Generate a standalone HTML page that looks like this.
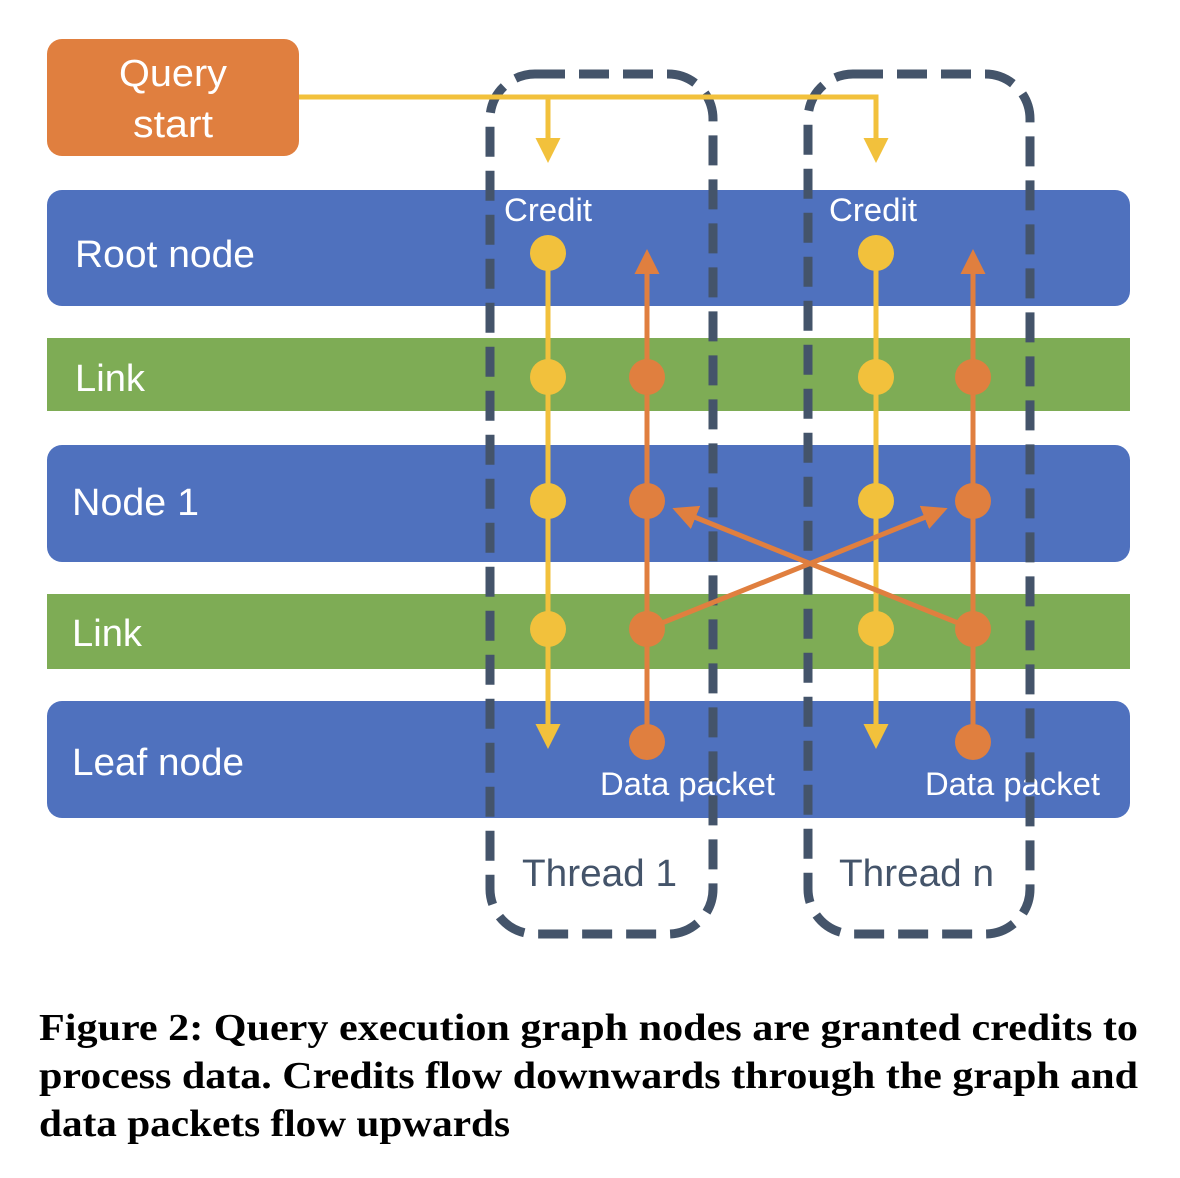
<!DOCTYPE html>
<html><head><style>
body{margin:0;background:#fff;width:1180px;height:1178px;overflow:hidden;position:relative}
svg{position:absolute;left:0;top:0}
</style></head><body>
<svg width="1180" height="1178" viewBox="0 0 1180 1178" font-family="Liberation Sans, sans-serif">
<defs>
<marker id="ay" markerWidth="6" markerHeight="6" refX="4" refY="3" orient="auto" markerUnits="strokeWidth"><path d="M0,0.5 L5,3 L0,5.5z" fill="#F2C13C"/></marker>
<marker id="ao" markerWidth="6" markerHeight="6" refX="4" refY="3" orient="auto" markerUnits="strokeWidth"><path d="M0,0.5 L5,3 L0,5.5z" fill="#E07F3F"/></marker>
</defs>
<rect x="47" y="39" width="252" height="117" rx="15" fill="#E07F3F"/>
<text x="173" y="86" fill="#fff" font-size="38" text-anchor="middle" textLength="108" lengthAdjust="spacingAndGlyphs">Query</text>
<text x="173" y="137" fill="#fff" font-size="38" text-anchor="middle" textLength="80" lengthAdjust="spacingAndGlyphs">start</text>
<rect x="47" y="190" width="1083" height="116" rx="15" fill="#4F71BE"/>
<rect x="47" y="338" width="1083" height="73" fill="#7EAC55"/>
<rect x="47" y="445" width="1083" height="117" rx="15" fill="#4F71BE"/>
<rect x="47" y="594" width="1083" height="75" fill="#7EAC55"/>
<rect x="47" y="701" width="1083" height="117" rx="15" fill="#4F71BE"/>
<g fill="#fff" font-size="38" lengthAdjust="spacingAndGlyphs">
<text x="75" y="267" textLength="180" lengthAdjust="spacingAndGlyphs">Root node</text>
<text x="75" y="391" textLength="70" lengthAdjust="spacingAndGlyphs">Link</text>
<text x="72" y="515" textLength="127" lengthAdjust="spacingAndGlyphs">Node 1</text>
<text x="72" y="646" textLength="70" lengthAdjust="spacingAndGlyphs">Link</text>
<text x="72" y="775" textLength="172" lengthAdjust="spacingAndGlyphs">Leaf node</text>
</g>
<g fill="#fff" font-size="32">
<text x="504" y="221" textLength="88" lengthAdjust="spacingAndGlyphs">Credit</text>
<text x="829" y="221" textLength="88" lengthAdjust="spacingAndGlyphs">Credit</text>
<text x="600" y="795" textLength="175" lengthAdjust="spacingAndGlyphs">Data packet</text>
<text x="925" y="795" textLength="175" lengthAdjust="spacingAndGlyphs">Data packet</text>
</g>
<g fill="#44546A" font-size="38">
<text x="522" y="886" textLength="155" lengthAdjust="spacingAndGlyphs">Thread 1</text>
<text x="839" y="886" textLength="155" lengthAdjust="spacingAndGlyphs">Thread n</text>
</g>
<g fill="none" stroke="#44546A" stroke-width="9" stroke-dasharray="30 14">
<rect x="490" y="74" width="223" height="860" rx="45"/>
<rect x="808" y="74" width="222" height="860" rx="45"/>
</g>
<g fill="none" stroke="#F2C13C" stroke-width="5">
<polyline points="299,97 876,97 876,158" marker-end="url(#ay)"/>
<line x1="548" y1="97" x2="548" y2="158" marker-end="url(#ay)"/>
<line x1="548" y1="253" x2="548" y2="744" marker-end="url(#ay)"/>
<line x1="876" y1="253" x2="876" y2="744" marker-end="url(#ay)"/>
</g>
<g fill="none" stroke="#E07F3F" stroke-width="5">
<line x1="647" y1="742" x2="647" y2="254" marker-end="url(#ao)"/>
<line x1="973" y1="742" x2="973" y2="254" marker-end="url(#ao)"/>
<line x1="647" y1="629" x2="943" y2="510" marker-end="url(#ao)"/>
<line x1="973" y1="629" x2="677" y2="510" marker-end="url(#ao)"/>
</g>
<g fill="#F2C13C">
<circle cx="548" cy="253" r="18"/><circle cx="548" cy="377" r="18"/><circle cx="548" cy="501" r="18"/><circle cx="548" cy="629" r="18"/>
<circle cx="876" cy="253" r="18"/><circle cx="876" cy="377" r="18"/><circle cx="876" cy="501" r="18"/><circle cx="876" cy="629" r="18"/>
</g>
<g fill="#E07F3F">
<circle cx="647" cy="377" r="18"/><circle cx="647" cy="501" r="18"/><circle cx="647" cy="629" r="18"/><circle cx="647" cy="742" r="18"/>
<circle cx="973" cy="377" r="18"/><circle cx="973" cy="501" r="18"/><circle cx="973" cy="629" r="18"/><circle cx="973" cy="742" r="18"/>
</g>
<g font-family="Liberation Serif, serif" font-weight="bold" font-size="38" fill="#000">
<text x="39" y="1040" textLength="1099" lengthAdjust="spacingAndGlyphs">Figure 2: Query execution graph nodes are granted credits to</text>
<text x="39" y="1088" textLength="1099" lengthAdjust="spacingAndGlyphs">process data. Credits flow downwards through the graph and</text>
<text x="39" y="1136" textLength="471" lengthAdjust="spacingAndGlyphs">data packets flow upwards</text>
</g>
</svg>
</body></html>
